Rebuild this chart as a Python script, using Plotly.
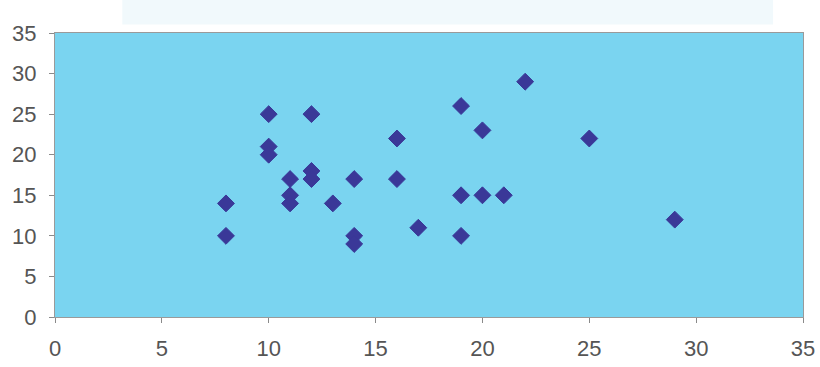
import plotly.graph_objects as go

# Observations (x, y)
x_vals = [8, 8, 10, 10, 10, 11, 11, 11, 12, 12, 12, 13, 14, 14, 14,
          16, 16, 17, 19, 19, 19, 20, 20, 21, 22, 25, 29]
y_vals = [14, 10, 25, 21, 20, 17, 15, 14, 25, 18, 17, 14, 17, 10, 9,
          22, 17, 11, 26, 15, 10, 23, 15, 15, 29, 22, 12]

tick_vals = [0, 5, 10, 15, 20, 25, 30, 35]

fig = go.Figure()
fig.add_trace(go.Scatter(
    x=x_vals, y=y_vals, mode="markers",
    marker=dict(symbol="diamond", size=13, color="#3a3898",
                line=dict(width=1, color="#3a3898")),
    showlegend=False,
))

# faint band above the plot area
fig.add_shape(type="rect", xref="paper", yref="paper",
              x0=0.09, x1=0.96, y0=1.03, y1=1.13,
              fillcolor="#f1f9fc", line=dict(width=0), layer="below")

axis_common = dict(
    range=[0, 35], tickvals=tick_vals, showgrid=False, zeroline=False,
    showline=True, linecolor="#9a9a9a", linewidth=1,
    ticks="outside", ticklen=5, tickcolor="#8a8a8a",
    tickfont=dict(family="Liberation Sans, Arial, sans-serif",
                  size=22, color="#555555"),
    mirror=True, fixedrange=True, automargin=False,
)

fig.update_layout(
    width=820, height=367,
    margin=dict(l=55, r=17, t=33, b=50),
    paper_bgcolor="white",
    plot_bgcolor="#7ad4f0",
    xaxis=dict(**axis_common),
    yaxis=dict(**axis_common),
)
fig.update_xaxes(ticklabelstandoff=7)
fig.update_yaxes(ticklabelstandoff=8)

fig.write_html("out.html")
